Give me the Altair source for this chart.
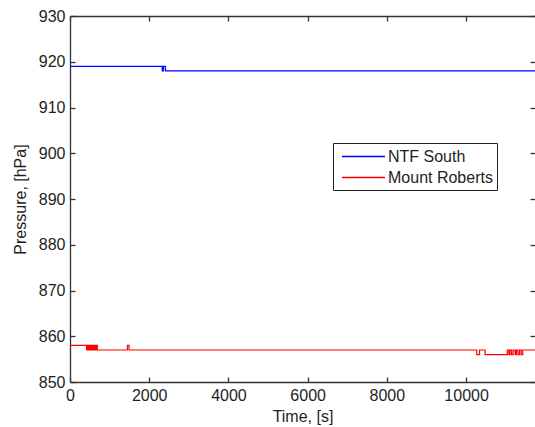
import altair as alt
import pandas as pd

# NTF South (blue) step series: time [s], pressure [hPa]
ntf_time = [0, 2330, 2360, 2410, 11770]
ntf_pres = [919, 918, 919, 918, 918]

# Mount Roberts (red) step series
mr_time = [0, 420, 435, 450, 460, 475, 490, 505, 525, 540, 555, 570, 585, 600,
           615, 630, 645, 660, 675, 690, 1450, 1490, 10270, 10340, 10480, 11040,
           11080, 11110, 11150, 11190, 11240, 11270, 11310, 11350, 11390, 11430, 11770]
mr_pres = [858, 857, 858, 857, 858, 857, 858, 857, 858, 857, 858, 857, 858, 857,
           858, 857, 858, 857, 858, 857, 858, 857, 856, 857, 856, 857,
           856, 857, 856, 857, 856, 857, 856, 857, 856, 857, 857]

stations = ["NTF South", "Mount Roberts"]
colors = ["#0000ff", "#ff0000"]
x_ticks = [0, 2000, 4000, 6000, 8000, 10000]
y_ticks = [850, 860, 870, 880, 890, 900, 910, 920, 930]

df = pd.DataFrame({
    "Time": ntf_time + mr_time,
    "Pressure": ntf_pres + mr_pres,
    "Station": [stations[0]] * len(ntf_time) + [stations[1]] * len(mr_time),
})

FONT = "Liberation Sans"
AXC = "#333333"
TXT = "#1e1e1e"
xs = alt.Scale(domain=[0, 11740], nice=False, zero=False)
ys = alt.Scale(domain=[850, 930], nice=False, zero=False)

base = alt.Chart(df)

lines = base.mark_line(interpolate="step-after", strokeWidth=1.2, clip=True).encode(
    x=alt.X("Time:Q", scale=xs, axis=alt.Axis(
        orient="bottom", values=x_ticks, title="Time, [s]", ticks=False, tickSize=0,
        domain=True, domainColor=AXC, domainWidth=1.3, grid=False,
        labelFont=FONT, labelFontSize=16, labelColor=TXT, labelPadding=5,
        labelFlush=False, format="d",
        titleFont=FONT, titleFontSize=16, titleFontWeight="normal", titleColor=TXT,
        titleBaseline="alphabetic", titleY=39)),
    y=alt.Y("Pressure:Q", scale=ys, axis=alt.Axis(
        orient="left", values=y_ticks, title="Pressure, [hPa]", ticks=False, tickSize=0,
        domain=True, domainColor=AXC, domainWidth=1.3, grid=False,
        labelFont=FONT, labelFontSize=16, labelColor=TXT, labelPadding=5,
        labelFlush=False,
        titleFont=FONT, titleFontSize=16, titleFontWeight="normal", titleColor=TXT,
        titleX=-50, titleBaseline="middle")),
    color=alt.Color("Station:N", scale=alt.Scale(domain=stations, range=colors),
                    legend=alt.Legend(
                        title=None, orient="none", legendX=263, legendY=127,
                        symbolType="M-2.5,0H2.5", symbolSize=296, symbolStrokeWidth=1.5,
                        symbolOffset=17, labelOffset=15, rowPadding=3, padding=4,
                        labelExpr="datum.label + '  '",
                        labelFont=FONT, labelFontSize=16, labelColor=TXT, labelLimit=0,
                        strokeColor="#222222", fillColor="#ffffff")),
)

def tick_axis(orient, offset, channel, domain=False, ticks=True):
    kw = dict(orient=orient, offset=offset, labels=False, domain=domain, grid=False,
              title=None, tickColor=AXC, tickWidth=1.3, tickSize=5,
              domainColor=AXC, domainWidth=1.3, ticks=ticks)
    if channel == "x":
        return alt.Axis(values=x_ticks, **kw)
    return alt.Axis(values=y_ticks, **kw)

ticks_bl = base.mark_point(opacity=0, size=0).encode(
    x=alt.X("Time:Q", scale=xs, axis=tick_axis("bottom", -5, "x")),
    y=alt.Y("Pressure:Q", scale=ys, axis=tick_axis("left", -5, "y")),
)
ticks_tr = base.mark_point(opacity=0, size=0).encode(
    x=alt.X("Time:Q", scale=xs, axis=tick_axis("top", -5, "x")),
    y=alt.Y("Pressure:Q", scale=ys, axis=tick_axis("right", -5, "y")),
)
top_border = base.mark_point(opacity=0, size=0).encode(
    x=alt.X("Time:Q", scale=xs, axis=tick_axis("top", 0, "x", domain=True, ticks=False)),
    y=alt.Y("Pressure:Q", scale=ys, axis=None),
)

chart = alt.layer(lines, ticks_bl, ticks_tr, top_border).resolve_axis(
    x="independent", y="independent"
).properties(
    width=465, height=366,
    padding={"left": 70, "top": 16, "right": 0, "bottom": 45},
    autosize=alt.AutoSizeParams(type="none"),
    background="#ffffff",
).configure_view(stroke=None)

chart.save("out.html", embed_options={"renderer": "svg", "actions": False})
